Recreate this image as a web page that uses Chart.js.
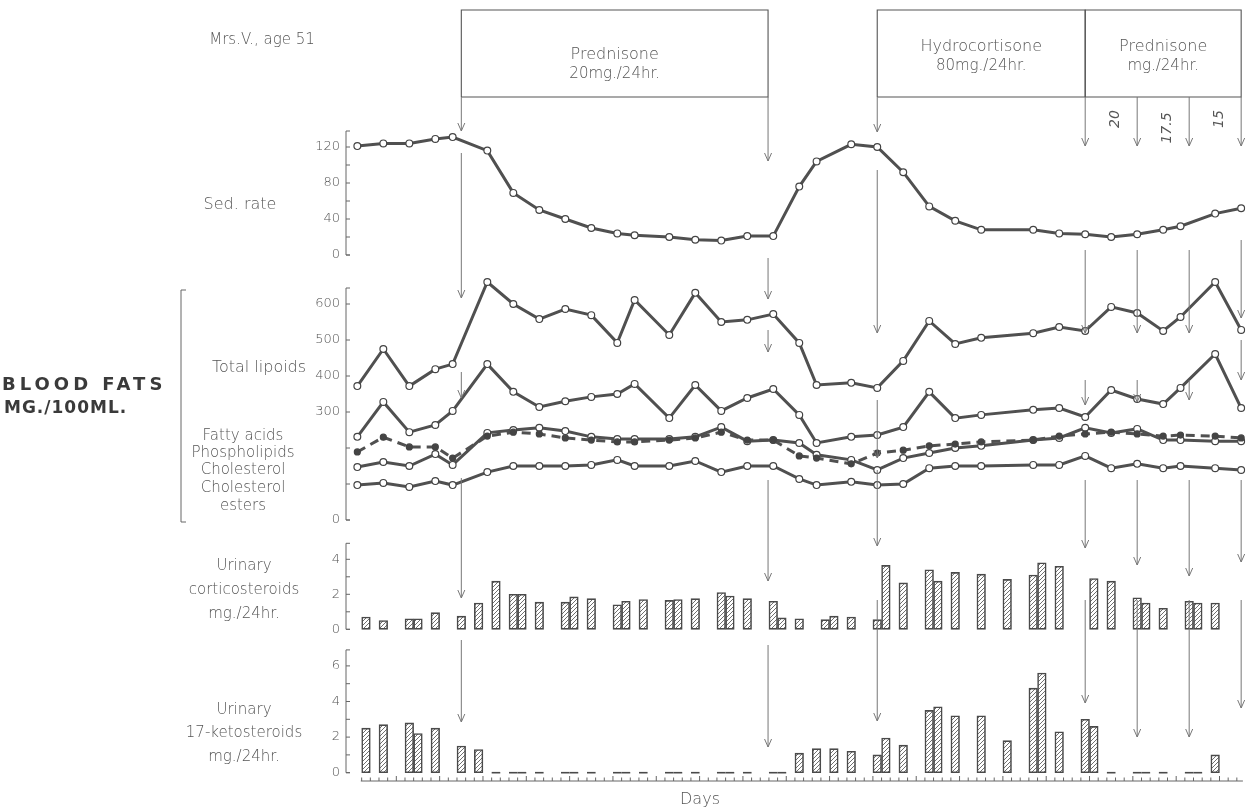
<!DOCTYPE html>
<html>
<head>
<meta charset="utf-8">
<script src="https://cdn.jsdelivr.net/npm/chart.js@4.4.0/dist/chart.umd.min.js"></script>
<style>
  html, body { margin: 0; padding: 0; background: #ffffff; }
  #wrap { position: relative; width: 1253px; height: 810px; }
  canvas { display: block; }
</style>
</head>
<body>
<div id="wrap"><canvas id="chart" width="1253" height="810"></canvas></div>
<script>
// ---- Observation days -------------------------------------------------
const sedDays = [0, 3, 6, 9, 11, 15, 18, 21, 24, 27, 30, 32, 36, 39, 42, 45, 48, 51, 53, 57, 60, 63, 66, 69, 72, 78, 81, 84, 87, 90, 93, 95, 99, 102];
const sedRate = [121, 124, 124, 129, 131, 116, 69, 50, 40, 30, 24, 22, 20, 17, 16, 21, 21, 76, 104, 123, 120, 92, 54, 38, 28, 28, 24, 23, 20, 23, 28, 32, 46, 52];

const fatDays = [0, 3, 6, 9, 11, 15, 18, 21, 24, 27, 30, 32, 36, 39, 42, 45, 48, 51, 53, 57, 60, 63, 66, 69, 72, 78, 81, 84, 87, 90, 93, 95, 99, 102];
const totalLipoids = [372, 475, 372, 419, 433, 661, 600, 558, 586, 569, 492, 611, 514, 631, 550, 556, 572, 492, 375, 381, 367, 442, 553, 489, 506, 519, 536, 525, 592, 575, 525, 564, 661, 528];
const fattyAcids = [231, 328, 244, 264, 303, 433, 356, 314, 330, 342, 350, 378, 283, 375, 303, 339, 364, 292, 214, 231, 236, 258, 356, 283, 292, 306, 311, 286, 361, 336, 322, 367, 461, 311];
const phospholipids = [189, 230, 203, 203, 172, 233, 244, 239, 228, 222, 217, 217, 222, 228, 244, 222, 222, 178, 172, 156, 186, 194, 206, 211, 217, 222, 233, 239, 244, 239, 233, 236, 233, 228];
const cholesterol = [147, 161, 150, 183, 153, 242, 250, 256, 247, 231, 225, 225, 225, 231, 258, 219, 222, 214, 181, 167, 139, 172, 186, 200, 206, 222, 228, 256, 242, 253, 222, 222, 219, 219];
const cholesterolEsters = [97, 103, 92, 108, 97, 133, 150, 150, 150, 153, 167, 150, 150, 164, 133, 150, 150, 114, 97, 106, 97, 100, 144, 150, 150, 153, 153, 178, 144, 156, 144, 150, 144, 139];

const cortDays = [1, 3, 6, 7, 9, 12, 14, 16, 18, 19, 21, 24, 25, 27, 30, 31, 33, 36, 37, 39, 42, 43, 45, 48, 49, 51, 54, 55, 57, 60, 61, 63, 66, 67, 69, 72, 75, 78, 79, 81, 85, 87, 90, 91, 93, 96, 97, 99];
const corticosteroids = [0.7, 0.5, 0.6, 0.6, 0.95, 0.75, 1.5, 2.75, 2.0, 2.0, 1.55, 1.55, 1.85, 1.75, 1.4, 1.6, 1.7, 1.65, 1.7, 1.75, 2.1, 1.9, 1.75, 1.6, 0.65, 0.6, 0.55, 0.75, 0.7, 0.55, 3.65, 2.65, 3.4, 2.75, 3.25, 3.15, 2.85, 3.1, 3.8, 3.6, 2.9, 2.75, 1.8, 1.5, 1.2, 1.6, 1.5, 1.5];

const ketoDays = [1, 3, 6, 7, 9, 12, 14, 16, 18, 19, 21, 24, 25, 27, 30, 31, 33, 36, 37, 39, 42, 43, 45, 48, 49, 51, 53, 55, 57, 60, 61, 63, 66, 67, 69, 72, 75, 78, 79, 81, 84, 85, 87, 90, 91, 93, 96, 97, 99];
const ketosteroids = [2.5, 2.7, 2.8, 2.2, 2.5, 1.5, 1.3, 0, 0, 0, 0, 0, 0, 0, 0, 0, 0, 0, 0, 0, 0, 0, 0, 0, 0, 1.1, 1.35, 1.35, 1.2, 1.0, 1.95, 1.55, 3.5, 3.7, 3.2, 3.2, 1.8, 4.75, 5.6, 2.3, 3.0, 2.6, 0, 0, 0, 0, 0, 0, 1.0];

// ---- Tick labels --------------------------------------------------------
const sedTicks = [0, 40, 80, 120];
const sedMinorTicks = [0, 20, 40, 60, 80, 100, 120];
const fatTicks = [0, 300, 400, 500, 600];
const fatMinorTicks = [0, 100, 200, 300, 400, 500, 600];
const cortTicks = [0, 2, 4];
const cortMinorTicks = [0, 1, 2, 3, 4];
const ketoTicks = [0, 2, 4, 6];
const ketoMinorTicks = [0, 1, 2, 3, 4, 5, 6];

// ---- Treatment periods (days) -------------------------------------------
const treatmentNames = [['Prednisone', '20mg./24hr.'], ['Hydrocortisone', '80mg./24hr.'], ['Prednisone', 'mg./24hr.']];
const treatmentStart = [12, 60, 84];
const treatmentEnd = [47.4, 84, 102];
const doseLabels = ['20', '17.5', '15'];
const doseDays = [87, 93, 99];
const changeDays = [12, 47.4, 60, 84, 90, 96, 102];

// ---- Drawing setup -------------------------------------------------------
const FONT = '"DejaVu Sans", "Noto Sans", sans-serif';
const INK = '#4a4a4a';
const TEXT = '#555555';
const AREA_TOP = 10, AREA_BOTTOM = 781;   // plot area edges in canvas pixels

const ctx = document.getElementById('chart').getContext('2d');

function hatchPattern() {
  const c = document.createElement('canvas');
  c.width = 4; c.height = 4;
  const g = c.getContext('2d');
  g.fillStyle = '#ffffff';
  g.fillRect(0, 0, 4, 4);
  g.strokeStyle = '#707070';
  g.lineWidth = 1;
  g.beginPath();
  g.moveTo(-1, 5); g.lineTo(5, -1);
  g.stroke();
  return ctx.createPattern(c, 'repeat');
}
const HATCH = hatchPattern();

// A panel axis occupies the whole plot height; its range is set so that
// zero and the unit size fall where the panel sits.
function panelAxis(zeroPx, pxPerUnit, labels) {
  return {
    type: 'linear',
    position: 'left',
    min: -(AREA_BOTTOM - zeroPx) / pxPerUnit,
    max: (zeroPx - AREA_TOP) / pxPerUnit,
    grid: { display: false },
    border: { display: false },
    afterFit(scale) { scale.width = 0; },
    afterBuildTicks(scale) { scale.ticks = labels.map(v => ({ value: v })); },
    ticks: { display: false }
  };
}

function pts(days, vals) { return days.map((d, i) => ({ x: d, y: vals[i] })); }

function lineSet(label, days, vals, axis, dashed) {
  return {
    type: 'line',
    label,
    data: pts(days, vals),
    yAxisID: axis,
    borderColor: '#505050',
    borderWidth: 3,
    borderDash: dashed ? [9, 6] : [],
    tension: 0,
    pointRadius: dashed ? 3 : 3.4,
    pointBorderWidth: 1.2,
    pointBorderColor: '#444444',
    pointBackgroundColor: dashed ? '#444444' : '#ffffff',
    order: 1
  };
}

function barSet(label, days, vals, axis) {
  return {
    type: 'bar',
    label,
    data: pts(days, vals),
    yAxisID: axis,
    backgroundColor: HATCH,
    borderColor: '#4a4a4a',
    borderWidth: 1.6,
    borderSkipped: false,
    barThickness: 8.6,
    grouped: false,
    order: 2
  };
}

// Arrow segments below each change day: [from, to] in canvas pixels.
const arrowRuns = {
  12:   [[97, 131], [153, 298], [372, 398], [478, 598], [640, 722]],
  47.4: [[97, 161], [258, 299], [330, 352], [480, 581], [645, 747]],
  60:   [[97, 132], [170, 333], [400, 458], [470, 546], [600, 721]],
  84:   [[97, 146], [250, 333], [380, 405], [480, 548], [600, 703]],
  90:   [[97, 146], [250, 333], [380, 402], [480, 565], [600, 737]],
  96:   [[97, 146], [250, 333], [380, 400], [480, 576], [600, 737]],
  102:  [[97, 146], [240, 318], [340, 380], [480, 562], [600, 708]]
};

const sideLabels = [
  ['Mrs.V., age 51', 262, 40, 15],
  ['Sed. rate', 240, 205, 16],
  ['Total lipoids', 259, 368, 16],
  ['Fatty acids', 243, 436, 15],
  ['Phospholipids', 243, 453, 15],
  ['Cholesterol', 243, 470, 15],
  ['Cholesterol', 243, 488, 15],
  ['esters', 243, 506, 15],
  ['Urinary', 244, 566, 15],
  ['corticosteroids', 244, 590, 15],
  ['mg./24hr.', 244, 614, 15],
  ['Urinary', 244, 710, 15],
  ['17-ketosteroids', 244, 733, 15],
  ['mg./24hr.', 244, 757, 15]
];

function arrowHead(g, x, y) {
  g.beginPath();
  g.moveTo(x - 3.5, y - 8);
  g.lineTo(x, y);
  g.lineTo(x + 3.5, y - 8);
  g.stroke();
}

const decorations = {
  id: 'decorations',
  afterDatasetsDraw(chart) {
    const g = chart.ctx;
    const sx = chart.scales.x;
    g.save();

    // zero readings drawn as short strokes on the base line
    chart.data.datasets.forEach((ds, di) => {
      if (ds.type !== 'bar') return;
      const ys = chart.scales[ds.yAxisID];
      const meta = chart.getDatasetMeta(di);
      g.strokeStyle = INK; g.lineWidth = 1.6;
      ds.data.forEach((p, i) => {
        if (p.y !== 0) return;
        const bar = meta.data[i];
        const y0 = ys.getPixelForValue(0);
        g.beginPath();
        g.moveTo(bar.x - 4.3, y0); g.lineTo(bar.x + 4.3, y0);
        g.stroke();
      });
    });

    // panel axes: bracket with inward ticks and value labels
    const panels = [['ySed', sedMinorTicks], ['yFat', fatMinorTicks], ['yCort', cortMinorTicks], ['yKeto', ketoMinorTicks]];
    const ax = sx.left - 7;
    panels.forEach(([id, minor]) => {
      const s = chart.scales[id];
      const top = s.getPixelForValue(minor[minor.length - 1]) - 16;
      const bot = s.getPixelForValue(0);
      g.strokeStyle = '#666'; g.lineWidth = 1;
      g.beginPath();
      g.moveTo(ax + 4, top); g.lineTo(ax, top); g.lineTo(ax, bot); g.lineTo(ax + 4, bot);
      minor.forEach(v => { const y = s.getPixelForValue(v); g.moveTo(ax, y); g.lineTo(ax + 4, y); });
      g.stroke();
      g.fillStyle = TEXT;
      g.font = '200 13px ' + FONT;
      g.textAlign = 'right'; g.textBaseline = 'middle';
      s.ticks.forEach(t => g.fillText(String(t.value), ax - 6, s.getPixelForValue(t.value)));
    });

    // day axis
    const yAx = chart.chartArea.bottom;
    g.strokeStyle = '#666'; g.lineWidth = 1;
    g.beginPath();
    g.moveTo(sx.getPixelForValue(0.4), yAx); g.lineTo(sx.getPixelForValue(102.2), yAx);
    for (let d = 1; d <= 102; d++) {
      const x = sx.getPixelForValue(d - 0.5);
      const h = d % 5 === 0 ? 5 : 3.5;
      g.moveTo(x, yAx); g.lineTo(x, yAx - h);
    }
    g.stroke();

    // treatment boxes
    g.strokeStyle = '#555'; g.lineWidth = 1.1;
    g.fillStyle = TEXT;
    g.textAlign = 'center'; g.textBaseline = 'middle';
    treatmentNames.forEach((lines, i) => {
      const x1 = sx.getPixelForValue(treatmentStart[i]);
      const x2 = sx.getPixelForValue(treatmentEnd[i]);
      g.beginPath();
      g.moveTo(x1, 97); g.lineTo(x1, 10); g.lineTo(x2, 10); g.lineTo(x2, 97); g.lineTo(x1, 97);
      g.stroke();
      const cx = (x1 + x2) / 2;
      const yTop = i === 0 ? 55 : 47;
      g.font = '200 16px ' + FONT;
      g.fillText(lines[0], cx, yTop);
      g.font = '200 15px ' + FONT;
      g.fillText(lines[1], cx, yTop + 19);
    });

    // dose steps, written sideways
    g.font = 'italic 200 14px ' + FONT;
    doseLabels.forEach((t, i) => {
      const x = sx.getPixelForValue(doseDays[i]) + 4;
      g.save();
      g.translate(x, t.length > 2 ? 128 : 119);
      g.rotate(-Math.PI / 2);
      g.fillText(t, 0, 0);
      g.restore();
    });

    // arrows marking each change of treatment
    g.strokeStyle = '#777'; g.lineWidth = 1;
    changeDays.forEach(d => {
      const x = sx.getPixelForValue(d);
      (arrowRuns[d] || []).forEach(([a, b]) => {
        g.beginPath(); g.moveTo(x, a); g.lineTo(x, b); g.stroke();
        arrowHead(g, x, b);
      });
    });

    // left-hand captions
    g.fillStyle = TEXT;
    sideLabels.forEach(([t, x, y, size]) => {
      g.font = '200 ' + size + 'px ' + FONT;
      g.fillText(t, x, y);
    });
    g.strokeStyle = '#666';
    g.beginPath();
    g.moveTo(186, 290); g.lineTo(181, 290); g.lineTo(181, 522); g.lineTo(186, 522);
    g.stroke();

    g.textAlign = 'left';
    g.fillStyle = '#3a3a3a';
    g.font = '600 18px ' + FONT;
    g.letterSpacing = '4px';
    g.fillText('BLOOD FATS', 2, 385);
    g.font = '600 17px ' + FONT;
    g.letterSpacing = '1px';
    g.fillText('MG./100ML.', 4, 409);
    g.letterSpacing = '0px';

    g.textAlign = 'center';
    g.fillStyle = TEXT;
    g.font = '200 16px ' + FONT;
    g.fillText('Days', 700, 800);

    g.restore();
  }
};

new Chart(ctx, {
  data: {
    datasets: [
      lineSet('Sed. rate', sedDays, sedRate, 'ySed', false),
      lineSet('Total lipoids', fatDays, totalLipoids, 'yFat', false),
      lineSet('Fatty acids', fatDays, fattyAcids, 'yFat', false),
      lineSet('Phospholipids', fatDays, phospholipids, 'yFat', true),
      lineSet('Cholesterol', fatDays, cholesterol, 'yFat', false),
      lineSet('Cholesterol esters', fatDays, cholesterolEsters, 'yFat', false),
      barSet('Urinary corticosteroids', cortDays, corticosteroids, 'yCort'),
      barSet('Urinary 17-ketosteroids', ketoDays, ketosteroids, 'yKeto')
    ]
  },
  options: {
    responsive: false,
    animation: false,
    devicePixelRatio: 1,
    layout: { padding: { left: 353, right: 7.5, top: AREA_TOP, bottom: 0 } },
    plugins: { legend: { display: false }, tooltip: { enabled: false }, title: { display: false } },
    scales: {
      x: {
        type: 'linear',
        min: 0,
        max: 102,
        grid: { display: false },
        border: { display: false },
        ticks: { display: false, stepSize: 1 },
        afterFit(scale) { scale.height = 810 - AREA_BOTTOM; }
      },
      ySed: panelAxis(255, 0.9, sedTicks),
      yFat: panelAxis(520, 0.36, fatTicks),
      yCort: panelAxis(629.3, 17.5, cortTicks),
      yKeto: panelAxis(772.7, 17.8, ketoTicks)
    }
  },
  plugins: [decorations]
});
</script>
</body>
</html>
